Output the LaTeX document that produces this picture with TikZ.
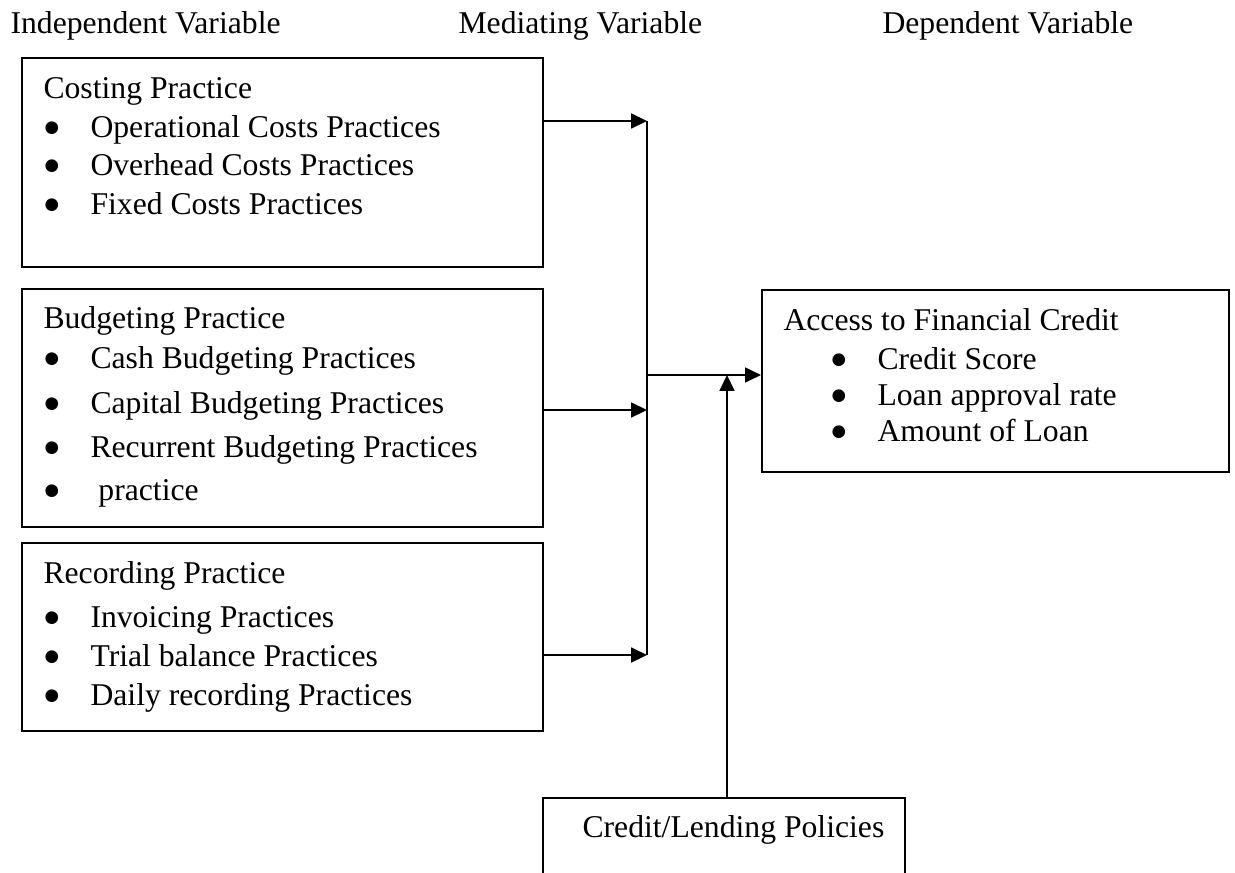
\documentclass[tikz,border=0pt]{standalone}
\usepackage{fontspec}
\setmainfont{Liberation Serif}
\newfontfamily\djv{DejaVu Sans}
\usetikzlibrary{arrows.meta,fit}
\newcommand{\bul}{\makebox[17.8pt][l]{\smash{\hspace{0.4pt}\raisebox{1.7pt}{\djv\fontsize{6.3}{7}\selectfont\char"25CF}}}}
\tikzset{
  txt/.style={inner sep=0pt, anchor=base west, font=\fontsize{12}{14}\selectfont},
  box/.style={draw, line width=0.8pt, inner sep=0pt},
  arr/.style={line width=0.9pt, -{Triangle[length=6pt,width=5.6pt]}},
  conn/.style={line width=0.9pt}
}
\begin{document}
\begin{tikzpicture}[x=0.3788pt, y=-0.3788pt]
\useasboundingbox (0,0) rectangle (1235,872);
\clip (0,0) rectangle (1235,872);
% headers
\node[txt] (h1) at (10,33) {Independent Variable};
\node[txt] (h2) at (458,33) {Mediating Variable};
\node[txt] (h3) at (882,33) {Dependent Variable};
% boxes
\node[box, fit={(22,58) (543,267)}] (b1) {};
\node[box, fit={(22,289) (543,527)}] (b2) {};
\node[box, fit={(22,543) (543,731)}] (b3) {};
\node[box, fit={(762,290) (1229,472)}] (b4) {};
\node[box, fit={(543,798) (905,900)}] (b5) {};
% box 1 text
\node[txt] (t11) at (43,98) {Costing Practice};
\node[txt] (t12) at (43,137) {\bul Operational Costs Practices};
\node[txt] (t13) at (43,175) {\bul Overhead Costs Practices};
\node[txt] (t14) at (43,214) {\bul Fixed Costs Practices};
% box 2 text
\node[txt] (t21) at (43,328) {Budgeting Practice};
\node[txt] (t22) at (43,368) {\bul Cash Budgeting Practices};
\node[txt] (t23) at (43,413) {\bul Capital Budgeting Practices};
\node[txt] (t24) at (43,457) {\bul Recurrent Budgeting Practices};
\node[txt] (t25) at (43,500) {\bul\ practice};
% box 3 text
\node[txt] (t31) at (43,583) {Recording Practice};
\node[txt] (t32) at (43,627) {\bul Invoicing Practices};
\node[txt] (t33) at (43,666) {\bul Trial balance Practices};
\node[txt] (t34) at (43,705) {\bul Daily recording Practices};
% box 4 text
\node[txt] (t41) at (783,330) {Access to Financial Credit};
\node[txt] (t42) at (830,369) {\bul Credit Score};
\node[txt] (t43) at (830,405) {\bul Loan approval rate};
\node[txt] (t44) at (830,441) {\bul Amount of Loan};
% box 5 text
\node[txt] (t51) at (582,837) {Credit/Lending Policies};
% connectors
\coordinate (c1) at (647,121);
\coordinate (c2) at (647,410);
\coordinate (c3) at (647,655);
\coordinate (jm) at (647,375);
\coordinate (jv) at (727,375);
\draw[arr] (b1.east |- c1) -- (c1);
\draw[arr] (b2.east |- c2) -- (c2);
\draw[arr] (b3.east |- c3) -- (c3);
\draw[conn] (c1) -- (c3);
\draw[arr] (jm) -- (b4.west |- jm);
\draw[arr] (b5.north -| jv) -- (jv);
\end{tikzpicture}
\end{document}
